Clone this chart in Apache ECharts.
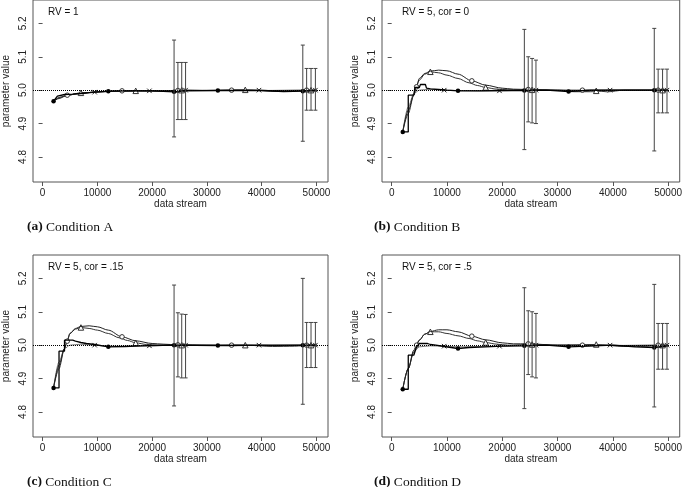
<!DOCTYPE html>
<html>
<head>
<meta charset="utf-8">
<script src="https://cdn.jsdelivr.net/npm/echarts@6/dist/echarts.min.js"></script>
<style>
  html, body { margin: 0; padding: 0; background: #fff; }
  #main { width: 685px; height: 487px; }
</style>
</head>
<body>
<div id="main"></div>
<script>
// ---- labels / ticks ----
const panelNotes = ['RV = 1', 'RV = 5, cor = 0', 'RV = 5, cor = .15', 'RV = 5, cor = .5'];
const captionTags = ['(a)', '(b)', '(c)', '(d)'];
const captionNames = ['Condition A', 'Condition B', 'Condition C', 'Condition D'];
const xTicks = [0, 10000, 20000, 30000, 40000, 50000];
const yTicks = [4.8, 4.9, 5.0, 5.1, 5.2];
const refValue = 5.0;

// marker positions on each line (data stream position)
const dotMarks = [2000, 12000, 24000, 32000, 47500];
const circleMarks = [4500, 14500, 24700, 34500, 48200];
const triangleMarks = [7000, 17000, 25400, 37000, 49000];
const crossMarks = [9500, 19500, 26100, 39500, 49800];

// error bars
const barX = [24000, 24700, 25400, 26100, 47500, 48200, 49000, 49800];
const barLowA = [4.86, 4.912, 4.912, 4.912, 4.847, 4.94, 4.94, 4.94];
const barHighA = [5.15, 5.083, 5.083, 5.083, 5.135, 5.065, 5.065, 5.065];
const barLowB = [4.822, 4.905, 4.902, 4.90, 4.818, 4.932, 4.932, 4.932];
const barHighB = [5.182, 5.10, 5.095, 5.09, 5.185, 5.063, 5.063, 5.063];
const barLowC = [4.818, 4.905, 4.902, 4.902, 4.823, 4.933, 4.933, 4.933];
const barHighC = [5.18, 5.097, 5.093, 5.092, 5.20, 5.068, 5.068, 5.068];
const barLowD = [4.81, 4.912, 4.905, 4.902, 4.815, 4.928, 4.928, 4.928];
const barHighD = [5.172, 5.103, 5.10, 5.095, 5.182, 5.065, 5.065, 5.065];

// ---- panel A ----
const dotLineA = [[2000,4.967],[2700,4.982],[3000,4.985],[4000,4.987],[5500,4.988],[7000,4.990],[9500,4.994],[12000,4.997],[17000,4.998],[20000,4.998],[24000,4.995],[26000,4.998],[32000,4.999],[40000,4.999],[44000,4.996],[47500,4.997],[50000,4.999]];
const circleLineA = [[2000,4.967],[3000,4.975],[4500,4.985],[7000,4.991],[10000,4.995],[14500,4.998],[20000,4.998],[24700,4.999],[30000,4.999],[34500,5.0],[40000,4.999],[48200,5.0],[50000,5.0]];
const triangleLineA = [[2000,4.967],[3000,4.978],[4500,4.985],[7000,4.992],[12000,4.996],[17000,4.998],[21000,4.997],[25400,5.0],[30000,4.999],[37000,5.001],[43000,4.996],[49000,5.0],[50000,5.0]];
const crossLineA = [[2000,4.967],[3500,4.98],[6000,4.988],[9500,4.994],[14000,4.997],[19500,4.998],[24000,4.996],[26100,5.0],[33000,4.999],[39500,5.0],[45000,4.996],[49800,5.0],[50000,5.0]];

// ---- panel B ----
const dotLineB = [[2000,4.875],[3000,4.875],[3000,4.985],[4000,4.985],[4200,5.008],[5000,5.008],[5200,5.017],[6100,5.017],[6300,5.006],[7000,5.004],[8500,5.002],[10000,5.0],[12000,4.998],[16000,4.998],[20000,4.999],[24000,4.999],[28000,5.0],[32000,4.996],[36000,5.0],[40000,5.0],[47500,5.0],[50000,5.0]];
const circleLineB = [[2000,4.875],[3000,4.94],[4000,4.985],[4500,5.01],[5000,5.035],[6000,5.05],[7000,5.057],[8500,5.06],[10000,5.058],[12000,5.048],[14500,5.028],[17000,5.015],[20000,5.006],[22000,5.003],[24700,5.002],[30000,5.0],[34500,5.0],[40000,5.0],[48200,5.0],[50000,5.0]];
const triangleLineB = [[2000,4.875],[3000,4.93],[4000,4.985],[4500,5.015],[5000,5.03],[6000,5.048],[7000,5.055],[8500,5.052],[10000,5.045],[12000,5.035],[14000,5.022],[15500,5.014],[17000,5.008],[19000,5.003],[21000,5.001],[25400,5.001],[30000,5.0],[35000,4.996],[37000,4.998],[39000,4.995],[42000,5.0],[49000,5.0],[50000,5.0]];
const crossLineB = [[2000,4.875],[3000,4.95],[4000,4.99],[5000,5.0],[7000,5.003],[9500,5.0],[12000,4.999],[16000,4.998],[19500,4.998],[24000,5.0],[26100,5.0],[30000,5.0],[33000,4.995],[36000,4.995],[39500,5.0],[44000,5.0],[49800,5.0],[50000,5.0]];

// ---- panel C ----
const dotLineC = [[2000,4.872],[3000,4.872],[3000,4.982],[4000,4.982],[4000,5.015],[5000,5.015],[5500,5.015],[6000,5.012],[7000,5.008],[8000,5.005],[9500,5.002],[12000,4.995],[15000,4.996],[18000,4.998],[20000,4.999],[24000,5.0],[32000,4.999],[40000,5.0],[47500,5.0],[50000,5.0]];
const circleLineC = [[2000,4.872],[3000,4.94],[4000,4.99],[4500,5.012],[5000,5.035],[6000,5.05],[7000,5.056],[8500,5.058],[10000,5.055],[12000,5.045],[14500,5.025],[17000,5.013],[20000,5.005],[22000,5.003],[24700,5.001],[30000,5.0],[34500,5.0],[40000,4.999],[48200,5.0],[50000,5.0]];
const triangleLineC = [[2000,4.872],[3000,4.93],[4000,4.99],[4500,5.015],[5000,5.035],[6000,5.048],[7000,5.053],[8500,5.05],[10000,5.045],[12000,5.035],[14000,5.022],[15500,5.014],[17000,5.007],[19000,5.002],[21000,5.0],[25400,5.0],[30000,4.999],[37000,5.0],[42000,4.996],[46000,4.997],[49000,5.0],[50000,5.0]];
const crossLineC = [[2000,4.872],[3000,4.95],[4000,4.99],[5000,5.0],[7000,5.003],[9500,5.0],[12000,4.997],[16000,4.997],[19500,4.998],[24000,5.0],[26100,5.0],[30000,5.0],[35000,4.998],[39500,5.0],[44000,4.998],[49800,5.0],[50000,5.0]];

// ---- panel D ----
const dotLineD = [[2000,4.868],[3000,4.868],[3000,4.97],[4000,4.97],[4500,4.995],[5000,5.005],[6500,5.005],[7000,5.002],[8000,5.0],[9500,4.996],[12000,4.99],[14000,4.993],[17000,4.995],[20000,4.997],[24000,4.998],[28000,5.0],[32000,4.995],[40000,5.0],[44000,4.995],[47500,4.993],[50000,4.998]];
const circleLineD = [[2000,4.868],[3000,4.93],[4000,4.985],[4500,5.0],[5000,5.015],[6000,5.033],[7000,5.041],[8500,5.046],[10000,5.046],[12000,5.04],[14500,5.027],[17000,5.016],[20000,5.007],[22000,5.004],[24700,5.004],[30000,5.0],[34500,5.0],[40000,4.999],[48200,5.0],[50000,5.0]];
const triangleLineD = [[2000,4.868],[3000,4.93],[4000,4.98],[5000,5.015],[6000,5.033],[7000,5.04],[8500,5.04],[10000,5.035],[12000,5.028],[14000,5.02],[15500,5.013],[17000,5.008],[19000,5.003],[21000,5.0],[25400,5.002],[30000,5.0],[37000,5.002],[42000,4.996],[45000,4.996],[49000,5.0],[50000,5.0]];
const crossLineD = [[2000,4.868],[3000,4.93],[4000,4.98],[5000,4.995],[7000,4.998],[9500,4.997],[12000,4.995],[16000,4.996],[19500,4.997],[24000,5.0],[26100,5.0],[30000,5.0],[35000,4.998],[39500,5.0],[44000,4.998],[49800,5.0],[50000,5.0]];

const panels = [
  { dot: dotLineA, circle: circleLineA, triangle: triangleLineA, cross: crossLineA, low: barLowA, high: barHighA },
  { dot: dotLineB, circle: circleLineB, triangle: triangleLineB, cross: crossLineB, low: barLowB, high: barHighB },
  { dot: dotLineC, circle: circleLineC, triangle: triangleLineC, cross: crossLineC, low: barLowC, high: barHighC },
  { dot: dotLineD, circle: circleLineD, triangle: triangleLineD, cross: crossLineD, low: barLowD, high: barHighD }
];

// grid boxes (pixels); top row is cut at the page edge
const boxes = [
  { left: 30, top: -1, height: 183 },
  { left: 382, top: -1, height: 183 },
  { left: 30, top: 255, height: 182 },
  { left: 382, top: 255, height: 182 }
];
const boxW = 298;

const markerStyle = {
  dot: { symbol: 'circle', symbolSize: 4.5, itemStyle: { color: '#000', borderWidth: 0 } },
  circle: { symbol: 'circle', symbolSize: 4.5, itemStyle: { color: '#fff', borderColor: '#333', borderWidth: 1 } },
  triangle: { symbol: 'triangle', symbolSize: 5.5, itemStyle: { color: '#fff', borderColor: '#333', borderWidth: 1 } },
  cross: { symbol: 'path://M0,0L10,10M0,10L10,0', symbolSize: 4.5, itemStyle: { color: 'none', borderColor: '#222', borderWidth: 1 } }
};
const lineLook = {
  dot: { color: '#000', width: 1.3 },
  circle: { color: '#222', width: 1 },
  triangle: { color: '#333', width: 1 },
  cross: { color: '#777', width: 1 }
};
const marksOf = { dot: dotMarks, circle: circleMarks, triangle: triangleMarks, cross: crossMarks };

// 只在标记位置画点
function lineData(points, kind) {
  const marks = marksOf[kind];
  return points.map((p, i) => {
    const first = points.findIndex(q => q[0] === p[0]);
    if (first === i && marks.indexOf(p[0]) >= 0) {
      return Object.assign({ value: p }, markerStyle[kind]);
    }
    return { value: p, symbol: 'none' };
  });
}

function renderBar(params, api) {
  const x = api.value(0);
  const lo = api.coord([x, api.value(1)]);
  const hi = api.coord([x, api.value(2)]);
  const cap = 2;
  const st = { stroke: '#444', lineWidth: 1 };
  return {
    type: 'group',
    children: [
      { type: 'line', shape: { x1: lo[0], y1: lo[1], x2: hi[0], y2: hi[1] }, style: st },
      { type: 'line', shape: { x1: lo[0] - cap, y1: lo[1], x2: lo[0] + cap, y2: lo[1] }, style: st },
      { type: 'line', shape: { x1: hi[0] - cap, y1: hi[1], x2: hi[0] + cap, y2: hi[1] }, style: st }
    ]
  };
}

const grid = [], xAxis = [], yAxis = [], series = [], graphic = [];
const font = 'Liberation Sans, Arial, sans-serif';

panels.forEach((pn, i) => {
  const b = boxes[i];
  const rowTop = i < 2 ? 0 : 255;
  grid.push({ left: b.left, top: b.top, width: boxW, height: b.height, show: true, borderColor: '#555', borderWidth: 1, backgroundColor: 'transparent' });
  xAxis.push({
    type: 'value', gridIndex: i, min: -1750, max: 52100,
    name: 'data stream', nameLocation: 'middle', nameGap: 17,
    nameTextStyle: { fontSize: 10, color: '#222', fontFamily: font },
    axisLine: { show: false },
    splitLine: { show: false },
    axisTick: { show: true, length: 4, customValues: xTicks, lineStyle: { color: '#555' } },
    axisLabel: { customValues: xTicks, fontSize: 10, color: '#222', margin: 6, fontFamily: font,
      formatter: v => String(v) }
  });
  yAxis.push({
    type: 'value', gridIndex: i, min: 4.725, max: 5.27,
    name: 'parameter value', nameLocation: 'middle', nameGap: 22,
    nameTextStyle: { fontSize: 10, color: '#222', fontFamily: font },
    axisLine: { show: false },
    splitLine: { show: false },
    axisTick: { show: true, length: 4, customValues: yTicks, lineStyle: { color: '#555' } },
    axisLabel: { customValues: yTicks, rotate: 90, fontSize: 10, color: '#222', margin: 5, fontFamily: font,
      formatter: v => v.toFixed(1) }
  });

  ['dot', 'circle', 'triangle', 'cross'].forEach((kind, k) => {
    const s = {
      type: 'line', xAxisIndex: i, yAxisIndex: i,
      data: lineData(pn[kind], kind),
      symbol: 'circle', showSymbol: true, showAllSymbol: true,
      smooth: kind === 'dot' ? false : 0.3, smoothMonotone: 'x',
      lineStyle: lineLook[kind],
      silent: true, animation: false,
      z: 4 - k
    };
    if (k === 0) {
      s.markLine = {
        silent: true, symbol: 'none', label: { show: false },
        lineStyle: { type: 'dotted', color: '#000', width: 1 },
        data: [{ yAxis: refValue }]
      };
    }
    series.push(s);
  });

  series.push({
    type: 'custom', xAxisIndex: i, yAxisIndex: i,
    renderItem: renderBar,
    encode: { x: 0, y: [1, 2] },
    data: barX.map((x, j) => [x, pn.low[j], pn.high[j]]),
    silent: true, animation: false, z: 5
  });

  graphic.push({
    type: 'text', left: b.left + (i % 2 === 0 ? 18 : 20), top: rowTop + 7,
    style: { text: panelNotes[i], fontSize: 10, fill: '#111', fontFamily: font }
  });
  graphic.push({
    type: 'text', left: b.left - (i % 2 === 0 ? 3 : 8), top: rowTop + 220,
    style: {
      text: '{b|' + captionTags[i] + '} ' + captionNames[i],
      fontSize: 13.5, fill: '#111', fontFamily: 'Liberation Serif, serif',
      rich: { b: { fontWeight: 'bold', fontSize: 13.5, fontFamily: 'Liberation Serif, serif' } }
    }
  });
});

const chart = echarts.init(document.getElementById('main'));
chart.setOption({
  animation: false,
  backgroundColor: '#fff',
  grid, xAxis, yAxis, series, graphic
});
</script>
</body>
</html>
